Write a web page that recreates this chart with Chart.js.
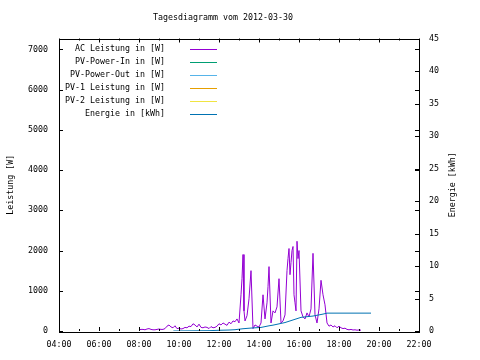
<!DOCTYPE html>
<html>
<head>
<meta charset="utf-8">
<script src="https://cdn.jsdelivr.net/npm/chart.js@4"></script>
<style>
html, body { margin: 0; padding: 0; background: #fff; }
</style>
</head>
<body>
<canvas id="chart" width="480" height="360"></canvas>
<script>
const chartTitle = 'Tagesdiagramm vom 2012-03-30';
const leftAxisTitle = 'Leistung [W]';
const rightAxisTitle = 'Energie [kWh]';

const seriesLabels = [
    'AC Leistung in [W]',
    'PV-Power-In in [W]',
    'PV-Power-Out in [W]',
    'PV-1 Leistung in [W]',
    'PV-2 Leistung in [W]',
    'Energie in [kWh]'
];
const seriesColors = ['#9400d3', '#009e73', '#56b4e9', '#e69f00', '#f0e442', '#0072b2'];

const leftTicks = [0, 1000, 2000, 3000, 4000, 5000, 6000, 7000];
const rightTicks = [0, 5, 10, 15, 20, 25, 30, 35, 40, 45];

// AC power
const acTimes = [
    '08:00', '08:06', '08:12', '08:18', '08:24', '08:30', '08:36', '08:42', '08:48', '08:54',
    '09:00', '09:06', '09:12', '09:18', '09:24', '09:30', '09:36', '09:42', '09:48', '09:54',
    '10:00', '10:06', '10:12', '10:18', '10:24', '10:30', '10:36', '10:42', '10:48', '10:54',
    '11:00', '11:06', '11:12', '11:18', '11:24', '11:30', '11:36', '11:42', '11:48', '11:54',
    '12:00', '12:06', '12:12', '12:18', '12:24', '12:30', '12:36', '12:42', '12:48', '12:54',
    '13:00', '13:06', '13:09', '13:12', '13:15', '13:18', '13:24', '13:30', '13:36', '13:42', '13:48', '13:54',
    '14:00', '14:06', '14:12', '14:18', '14:24', '14:27', '14:30', '14:36', '14:42', '14:48', '14:54',
    '15:00', '15:06', '15:12', '15:18', '15:24', '15:27', '15:30', '15:33', '15:36', '15:39', '15:42',
    '15:45', '15:48', '15:51', '15:54', '15:57',
    '16:00', '16:06', '16:12', '16:18', '16:24', '16:30', '16:36', '16:42', '16:48', '16:54',
    '17:00', '17:06', '17:12', '17:18', '17:24', '17:30', '17:36', '17:42', '17:48', '17:54',
    '18:00', '18:06', '18:12', '18:18', '18:24', '18:30', '18:36', '18:42', '18:48', '18:54',
    '19:00', '19:06'
];
const acValues = [
    30, 40, 40, 30, 50, 60, 40, 30, 30, 40,
    50, 40, 40, 60, 120, 150, 100, 80, 130, 60,
    70, 50, 60, 90, 80, 120, 110, 180, 150, 100,
    170, 90, 80, 100, 90, 60, 110, 80, 90, 120,
    180, 150, 200, 170, 140, 220, 180, 250, 230, 300,
    200, 900, 1300, 1900, 500, 250, 380, 800, 1500, 60, 150, 120,
    100, 200, 900, 300, 700, 1100, 1600, 200, 500, 450, 600,
    1300, 200, 250, 400, 1500, 1800, 2050, 1400, 1700, 2000, 2100,
    900, 700, 500, 2230, 1800,
    2000, 500, 350, 300, 450, 350, 550, 1930, 400, 200,
    550, 1260, 900, 650, 200, 120, 150, 100, 130, 80,
    120, 80, 60, 70, 40, 30, 40, 25, 30, 20,
    25, 20
];

// cumulated energy
const energyTimes = ['09:43', '10:30', '11:30', '11:54', '12:30', '12:48', '13:12', '13:36', '14:06', '14:30',
    '14:42', '15:18', '15:48', '16:06', '16:24', '16:42', '17:12', '17:24', '19:36'];
const energyValues = [0, 0.02, 0.05, 0.1, 0.15, 0.2, 0.35, 0.45, 0.55, 0.8,
    0.9, 1.3, 1.8, 2.1, 2.2, 2.3, 2.6, 2.75, 2.75];

const FONT = { family: '"DejaVu Sans Mono", monospace', size: 8.3 };

function toHours(t) {
    const parts = t.split(':');
    return parseInt(parts[0], 10) + parseInt(parts[1], 10) / 60;
}

function toPoints(times, values) {
    return times.map((t, i) => ({ x: toHours(t), y: values[i] }));
}

function hourLabel(v) {
    return String(v).padStart(2, '0') + ':00';
}

const frameAndTicks = {
    id: 'frameAndTicks',
    afterDatasetsDraw(chart) {
        const ctx = chart.ctx;
        const a = chart.chartArea;
        const xs = chart.scales.x;
        const yl = chart.scales.y;
        const yr = chart.scales.y2;
        ctx.save();
        ctx.strokeStyle = '#000';
        ctx.lineWidth = 1;
        ctx.strokeRect(Math.round(a.left) + 0.5, Math.round(a.top) + 0.5,
            Math.round(a.right - a.left), Math.round(a.bottom - a.top));
        ctx.beginPath();
        for (let h = 4; h <= 22; h++) {
            const px = Math.round(xs.getPixelForValue(h)) + 0.5;
            const len = h % 2 === 0 ? 4 : 2;
            ctx.moveTo(px, a.bottom); ctx.lineTo(px, a.bottom - len);
            ctx.moveTo(px, a.top); ctx.lineTo(px, a.top + len);
        }
        leftTicks.forEach(v => {
            const py = Math.round(yl.getPixelForValue(v)) + 0.5;
            ctx.moveTo(a.left, py); ctx.lineTo(a.left + 4, py);
            ctx.moveTo(a.right, py); ctx.lineTo(a.right - 4, py);
        });
        rightTicks.forEach(v => {
            const py = Math.round(yr.getPixelForValue(v)) + 0.5;
            ctx.moveTo(a.right, py); ctx.lineTo(a.right - 4, py);
        });
        ctx.stroke();

        ctx.fillStyle = '#000';
        ctx.font = FONT.size + 'px ' + FONT.family;
        ctx.textAlign = 'center';
        ctx.textBaseline = 'middle';
        ctx.fillText(chartTitle, 223, 18);

        // axis titles, both read bottom to top
        const cy = (a.top + a.bottom) / 2;
        [[11, leftAxisTitle], [453, rightAxisTitle]].forEach(([x, text]) => {
            ctx.save();
            ctx.translate(x, cy);
            ctx.rotate(-Math.PI / 2);
            ctx.fillText(text, 0, 0);
            ctx.restore();
        });

        // gnuplot-like key: text right aligned, line sample on the right
        ctx.textAlign = 'right';
        chart.data.datasets.forEach((ds, i) => {
            const y = 48.5 + i * 13;
            ctx.fillText(ds.label, 165, y);
            ctx.beginPath();
            ctx.strokeStyle = ds.borderColor;
            ctx.moveTo(190, Math.round(y) + 0.5);
            ctx.lineTo(217, Math.round(y) + 0.5);
            ctx.stroke();
        });
        ctx.restore();
    }
};

const datasets = seriesLabels.map((label, i) => ({
    label: label,
    data: [],
    borderColor: seriesColors[i],
    backgroundColor: seriesColors[i],
    borderWidth: 1,
    pointRadius: 0,
    tension: 0,
    fill: false,
    yAxisID: 'y',
    order: 1
}));
datasets[0].data = toPoints(acTimes, acValues);
datasets[5].data = toPoints(energyTimes, energyValues);
datasets[5].yAxisID = 'y2';
datasets[5].order = 0;

const noGrid = { display: false, drawTicks: false };

new Chart(document.getElementById('chart'), {
    type: 'line',
    data: { datasets: datasets },
    options: {
        responsive: false,
        animation: false,
        layout: { padding: { top: 38.5 } },
        plugins: {
            legend: { display: false },
            tooltip: { enabled: false },
            title: { display: false }
        },
        scales: {
            x: {
                type: 'linear',
                position: 'bottom',
                min: 4,
                max: 22,
                afterFit: s => { s.height = 29; },
                grid: noGrid,
                border: { display: false },
                ticks: {
                    stepSize: 2,
                    autoSkip: false,
                    maxRotation: 0,
                    padding: 9,
                    color: '#000',
                    font: FONT,
                    callback: v => hourLabel(v)
                }
            },
            y: {
                position: 'left',
                min: 0,
                max: 7270,
                afterFit: s => { s.width = 59; },
                afterBuildTicks: s => { s.ticks = leftTicks.map(v => ({ value: v })); },
                grid: noGrid,
                border: { display: false },
                ticks: { padding: 11, color: '#000', font: FONT, callback: v => String(v) }
            },
            y2: {
                position: 'right',
                min: 0,
                max: 45,
                afterFit: s => { s.width = 61; },
                afterBuildTicks: s => { s.ticks = rightTicks.map(v => ({ value: v })); },
                grid: noGrid,
                border: { display: false },
                ticks: { padding: 10, color: '#000', font: FONT, callback: v => String(v) }
            }
        }
    },
    plugins: [frameAndTicks]
});
</script>
</body>
</html>
